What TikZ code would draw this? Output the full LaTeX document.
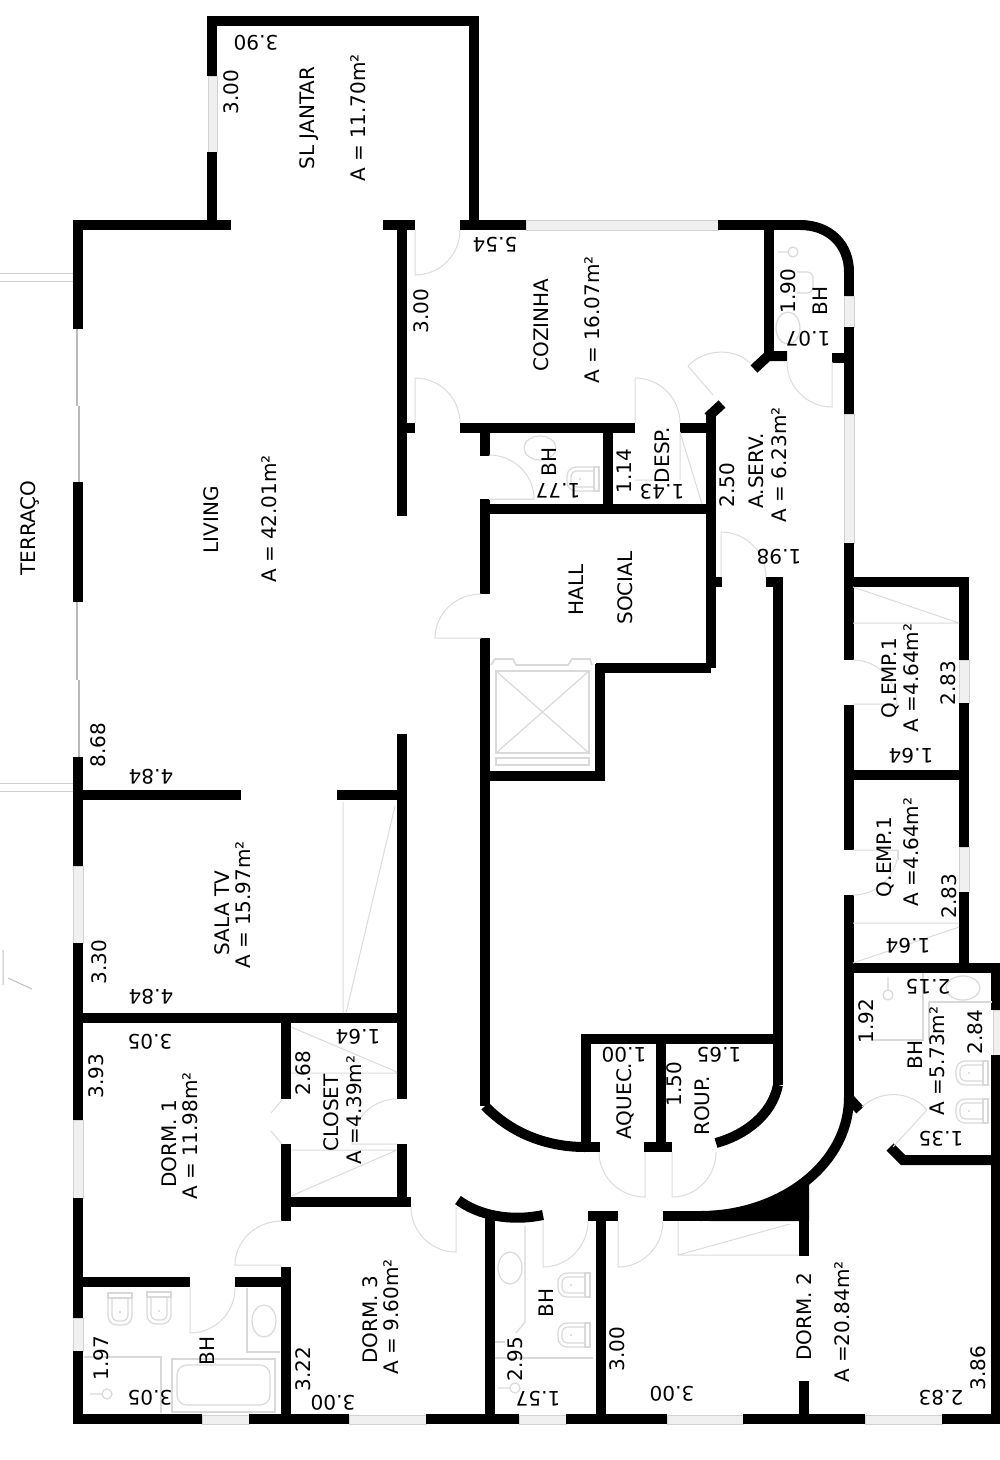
\documentclass[tikz,border=0pt]{standalone}
\usepackage{fontspec}
\setmainfont{DejaVu Sans}
\usetikzlibrary{calc}
\tikzset{
	wall/.style = {line width = 10pt, black},
	win/.style = {draw = gray!35, fill = gray!12, line width = 0.8pt},
	glass/.style = {draw = gray!55, line width = 1.6pt},
	door/.style = {draw = gray!28, line width = 1pt},
	fixt/.style = {draw = gray!30, line width = 1.2pt},
	room/.style = {font = \fontsize{20}{24}\selectfont, inner sep = 0pt, rotate = 90},
	updim/.style = {font = \fontsize{20}{24}\selectfont, inner sep = 0pt, rotate = 180},
	bowl/.pic = {
		\draw [fixt] (13,-12) rectangle (18,12);
		\draw [fixt, rounded corners = 9pt] (13,-12) -- (-14,-12) -- (-14,12) -- (13,12);
		\draw [fixt, rounded corners = 6pt] (13,-8) -- (-10,-8) -- (-10,8) -- (13,8);
		\fill [gray!50] (-1,0) circle (0.8pt);
	}
}
\newcommand{\swing}[3]{\draw [door] (#3) -- (#1) .. controls ($(#1)+0.5523*(#2)-0.5523*(#3)$) and ($(#2)+0.5523*(#1)-0.5523*(#3)$) .. (#2);}
\begin{document}
\begin{tikzpicture}[x = 1pt, y = -1pt]
	\useasboundingbox (0,0) rectangle (1000,1460);

	% windows and glass
	\draw [win] (208,76) rectangle (217,152);
	\draw [win] (526,220) rectangle (718,230);
	\draw [win] (844,296) rectangle (854,327);
	\draw [win] (844,414) rectangle (854,543);
	\draw [win] (959,660) rectangle (969,703);
	\draw [win] (959,847) rectangle (969,892);
	\draw [win] (993,1010) rectangle (1000,1055);
	\draw [win] (73,866) rectangle (83,943);
	\draw [win] (73,1120) rectangle (83,1198);
	\draw [win] (73,1318) rectangle (83,1351);
	\draw [win] (202,1415) rectangle (249,1424);
	\draw [win] (349,1415) rectangle (426,1424);
	\draw [win] (519,1415) rectangle (566,1424);
	\draw [win] (667,1415) rectangle (743,1424);
	\draw [win] (865,1415) rectangle (942,1424);
	\draw [glass] (77,329) -- (77,406);
	\draw [glass] (79,406) -- (79,482);
	\draw [glass] (77,602) -- (77,680);
	\draw [glass] (79,680) -- (79,757);
	\draw [door, gray!40] (0,273) -- (73,273) (0,281) -- (73,281);
	\draw [door, gray!40] (0,783) -- (73,783) (0,791) -- (73,791);
	\draw [door, gray!50] (3,950) -- (3,985) (8,978) -- (32,989);

	% outer walls
	\draw [wall] (73,1419) -- (202,1419) (249,1419) -- (349,1419) (426,1419) -- (519,1419);
	\draw [wall] (566,1419) -- (667,1419) (743,1419) -- (865,1419) (942,1419) -- (1000,1419);
	\draw [wall] (78,224) -- (78,329) (78,482) -- (78,602) (78,757) -- (78,866);
	\draw [wall] (78,943) -- (78,1120) (78,1198) -- (78,1318) (78,1351) -- (78,1424);
	\draw [wall] (73,225) -- (231,225);
	\draw [wall] (212,152) -- (212,225) (212,76) -- (212,21) -- (474,21) -- (474,225);
	\draw [wall] (460,225) -- (526,225) (718,225) -- (800,225);
	\draw [wall] (800,225) .. controls (830,225) and (849,245) .. (849,272);
	\draw [wall] (849,272) -- (849,296) (849,327) -- (849,414) (849,543) -- (849,660);
	\draw [wall] (849,705) -- (849,850) (849,895) -- (849,1097);
	\draw [wall] (849,582) -- (964,582) -- (964,660) (964,703) -- (964,847) (964,892) -- (964,968);
	\draw [wall] (849,775) -- (964,775);
	\draw [wall] (849,968) -- (996,968) -- (996,1010) (996,1055) -- (996,1419);

	% corridor, outer side
	\draw [wall] (849,1097) .. controls (849,1165) and (780,1216) .. (700,1216);
	\draw [wall] (663,1216) -- (809,1216);
	\fill (806,1177) .. controls (785,1195) and (750,1211) .. (710,1211) -- (710,1221) -- (809,1221) -- (809,1177) -- cycle;
	\draw [wall] (804,1182) -- (804,1256) (804,1381) -- (804,1414);
	\draw [wall] (848,1097) -- (860,1110);
	\draw [wall] (890,1147) -- (903,1160) -- (992,1160);
	\draw [wall] (458,1200) .. controls (478,1215) and (510,1222) .. (543,1215);
	\draw [wall] (588,1216) -- (618,1216);
	\draw [wall] (490,1218) -- (490,1414) (601,1216) -- (601,1414);

	% living and bedrooms
	\draw [wall] (383,225) -- (415,225);
	\draw [wall] (402,225) -- (402,516) (402,734) -- (402,1099) (402,1144) -- (402,1202);
	\draw [wall] (402,428) -- (415,428);
	\draw [wall] (78,795) -- (241,795) (337,795) -- (402,795);
	\draw [wall] (78,1018) -- (402,1018);
	\draw [wall] (286,1018) -- (286,1099) (286,1144) -- (286,1221) (286,1267) -- (286,1419);
	\draw [wall] (286,1202) -- (411,1202);
	\draw [wall] (78,1282) -- (190,1282) (235,1282) -- (286,1282);

	% core
	\draw [wall] (460,428) -- (635,428) (680,428) -- (716,428);
	\draw [wall] (485,428) -- (485,456) (485,499) -- (485,594);
	\draw [wall] (485,509) -- (716,509);
	\draw [wall] (608,428) -- (608,509);
	\draw [wall] (711,668) -- (711,415);
	\draw [wall] (708,417) -- (722,404);
	\draw [wall] (711,582) -- (722,582);
	\draw [wall] (711,668) -- (596,668) (600,664) -- (600,776) -- (480,776);
	\draw [wall] (485,638) -- (485,1106);
	\draw [wall] (485,1106) .. controls (510,1132) and (545,1147) .. (585,1147);
	\draw [wall] (585,1147) -- (600,1147) (644,1147) -- (672,1147);
	\draw [wall] (716,1143) .. controls (745,1135) and (772,1115) .. (778,1085);
	\draw [wall] (778,1085) -- (778,577);
	\draw [wall] (766,582) -- (783,582);
	\draw [wall] (586,1148) -- (586,1039) -- (783,1039);
	\draw [wall] (661,1039) -- (661,1147);
	\draw [wall] (769,225) -- (769,353);
	\draw [wall] (754,369) -- (768,356) -- (787,356);
	\draw [wall] (832,358) -- (849,358);

	% doors
	\swing{415,275}{460,230}{415,230}
	\swing{415,378}{460,423}{415,423}
	\swing{435,638}{481,594}{481,638}
	\swing{534,499}{489,455}{489,499}
	\swing{635,378}{680,423}{635,423}
	\swing{721,532}{766,577}{721,577}
	\swing{832,407}{787,362}{832,362}
	\swing{897,704}{853,660}{853,704}
	\swing{898,850}{853,895}{853,850}
	\swing{352,1144}{397,1099}{397,1144}
	\swing{235,1265}{282,1221}{282,1265}
	\swing{190,1333}{235,1288}{190,1288}
	\swing{456,1252}{411,1207}{456,1207}
	\swing{645,1197}{599,1152}{645,1152}
	\swing{672,1197}{716,1152}{672,1152}
	\swing{543,1267}{588,1221}{543,1221}
	\swing{618,1267}{663,1221}{618,1221}
	\draw [door] (713,395) -- (688,366) .. controls (705,348) and (735,348) .. (750,363);
	\draw [door] (927,1110) -- (893,1147);
	\draw [door] (927,1110) .. controls (910,1090) and (880,1090) .. (862,1107);
	\draw [door] (282,1100) -- (271,1113) (282,1144) -- (271,1131);

	% closets
	\draw [door] (343,802) -- (343,1013) (346,1013) -- (395,806);
	\draw [door] (291,1073) -- (397,1073) (291,1027) -- (397,1072);
	\draw [door] (291,1150) -- (397,1150) (291,1196) -- (397,1150);
	\draw [door] (853,623) -- (959,623) (853,587) -- (959,623);
	\draw [door] (853,923) -- (959,923) (853,963) -- (959,927);
	\draw [door] (678,1221) -- (678,1255) -- (799,1255) (678,1255) -- (790,1224);
	\draw [door] (635,480) -- (655,480) (680,432) -- (680,480) (680,432) -- (702,504);
	\draw [door] (884,850) -- (898,850) -- (898,860);

	% elevator
	\draw [fixt, line width = 2pt] (496,671) rectangle (589,753);
	\draw [fixt, line width = 1.2pt] (496,671) -- (589,753) (589,671) -- (496,753);
	\draw [fixt] (496,758) rectangle (589,765);
	\draw [fixt, line width = 1.6pt] (491,665) -- (495,659) -- (513,659) -- (516,665) -- (568,665) -- (572,659) -- (590,659) -- (592,665);

	% bath, lower left
	\pic [rotate = 90] at (120,1311) {bowl};
	\pic [rotate = 90] at (159,1310) {bowl};
	\draw [fixt] (247,1288) -- (247,1352) -- (280,1352);
	\draw [fixt] (264,1321) ellipse (12 and 16);
	\draw [fixt] (172,1359) rectangle (275,1412);
	\draw [fixt, rounded corners = 10pt] (177,1365) rectangle (270,1405);
	\draw [fixt] (84,1357) -- (161,1357) -- (161,1413);
	\draw [fixt] (107,1394) circle (5) (90,1394) -- (102,1394);
	% bath, bottom
	\pic at (572,1285) {bowl};
	\pic at (572,1335) {bowl};
	\draw [fixt] (510,1268) ellipse (12 and 16);
	\draw [fixt] (525,1226) -- (525,1322) -- (516,1333);
	\draw [fixt] (495,1358) -- (593,1358) (495,1342) -- (505,1342);
	\draw [fixt] (515,1388) circle (5) (498,1388) -- (510,1388);
	% bath, lower right
	\pic at (970,1073) {bowl};
	\pic at (970,1111) {bowl};
	\draw [fixt] (963,988) ellipse (17 and 12);
	\draw [fixt] (929,1002) -- (992,1002);
	\draw [fixt] (923,973) -- (923,1040) -- (873,1040) (929,1002) -- (929,1040);
	\draw [fixt] (888,995) circle (5) (888,977) -- (888,990);
	% bath, social
	\pic at (581,479) {bowl};
	\draw [fixt] (540,448) ellipse (16 and 12);
	\draw [door] (489,499) -- (534,499);
	% bath, service
	\draw [fixt] (793,252) circle (5) (778,252) -- (788,252);
	\draw [fixt, rounded corners = 6pt] (797,272) -- (813,272) -- (813,293) -- (797,293);
	\draw [fixt] (788,328) ellipse (12 and 16);

	% labels
	\node [room] (jantar) at (309,118) {SL JANTAR};
	\node [room] (jantarA) at (358,118) {A = 11.70m²};
	\node [updim] (jantarW) at (256,43) {3.90};
	\node [room] (jantarH) at (231,92) {3.00};
	\node [updim] (cozW) at (495,245) {5.54};
	\node [room] (cozH) at (421,311) {3.00};
	\node [room] (coz) at (541,325) {COZINHA};
	\node [room] (cozA) at (592,320) {A = 16.07m²};
	\node [room] (desp) at (662,455) {DESP.};
	\node [room] (despH) at (624,471) {1.14};
	\node [updim] (despW) at (662,492) {1.43};
	\node [updim] (bhsW) at (558,491) {1.77};
	\node [room] (bhs) at (549,462) {BH};
	\node [room] (servH) at (727,485) {2.50};
	\node [room] (serv) at (756,471) {A.SERV.};
	\node [room] (servA) at (779,465) {A = 6.23m²};
	\node [updim] (servW) at (779,557) {1.98};
	\node [room] (bhtH) at (788,291) {1.90};
	\node [room] (bht) at (820,301) {BH};
	\node [updim] (bhtW) at (808,339) {1.07};
	\node [room] (hall) at (576,590) {HALL};
	\node [room] (social) at (625,588) {SOCIAL};
	\node [room] (living) at (211,520) {LIVING};
	\node [room] (livingA) at (269,519) {A = 42.01m²};
	\node [room] (terraco) at (30,528) {TERRAÇO};
	\node [room] (livingH) at (98,745) {8.68};
	\node [updim] (livingW) at (151,777) {4.84};
	\node [room] (tv) at (222,913) {SALA TV};
	\node [room] (tvA) at (243,905) {A = 15.97m²};
	\node [room] (tvH) at (99,962) {3.30};
	\node [updim] (tvW) at (151,997) {4.84};
	\node [updim] (dormaW) at (150,1042) {3.05};
	\node [room] (dormaH) at (96,1076) {3.93};
	\node [room] (dorma) at (169,1144) {DORM. 1};
	\node [room] (dormaA) at (190,1136) {A = 11.98m²};
	\node [room] (closetH) at (303,1073) {2.68};
	\node [updim] (closetW) at (358,1037) {1.64};
	\node [room] (closet) at (331,1113) {CLOSET};
	\node [room] (closetA) at (354,1110) {A =4.39m²};
	\node [room] (dormc) at (370,1320) {DORM. 3};
	\node [room] (dormcA) at (391,1317) {A = 9.60m²};
	\node [room] (dormcH) at (303,1369) {3.22};
	\node [updim] (dormcW) at (333,1403) {3.00};
	\node [room] (bhaH) at (101,1358) {1.97};
	\node [updim] (bhaW) at (150,1398) {3.05};
	\node [room] (bha) at (207,1351) {BH};
	\node [room] (aquec) at (625,1101) {AQUEC.};
	\node [updim] (aquecW) at (624,1055) {1.00};
	\node [room] (roupH) at (674,1084) {1.50};
	\node [room] (roup) at (702,1106) {ROUP.};
	\node [updim] (roupW) at (719,1055) {1.65};
	\node [room] (bhb) at (546,1303) {BH};
	\node [room] (bhbH) at (515,1359) {2.95};
	\node [updim] (bhbW) at (538,1399) {1.57};
	\node [room] (dormbH) at (617,1349) {3.00};
	\node [updim] (dormbW) at (672,1394) {3.00};
	\node [room] (dormb) at (804,1317) {DORM. 2};
	\node [room] (dormbA) at (842,1322) {A =20.84m²};
	\node [room] (dormbHb) at (978,1368) {3.86};
	\node [updim] (dormbWb) at (941,1398) {2.83};
	\node [room] (empa) at (890,678) {Q.EMP.1};
	\node [room] (empaA) at (911,678) {A =4.64m²};
	\node [room] (empaH) at (948,683) {2.83};
	\node [updim] (empaW) at (911,756) {1.64};
	\node [room] (empb) at (885,857) {Q.EMP.1};
	\node [room] (empbA) at (911,852) {A =4.64m²};
	\node [room] (empbH) at (949,896) {2.83};
	\node [updim] (empbW) at (908,946) {1.64};
	\node [updim] (bhcW) at (928,987) {2.15};
	\node [room] (bhcH) at (866,1021) {1.92};
	\node [room] (bhcHb) at (975,1032) {2.84};
	\node [room] (bhc) at (915,1055) {BH};
	\node [room] (bhcA) at (937,1061) {A =5.73m²};
	\node [updim] (bhcWb) at (941,1139) {1.35};
\end{tikzpicture}
\end{document}
